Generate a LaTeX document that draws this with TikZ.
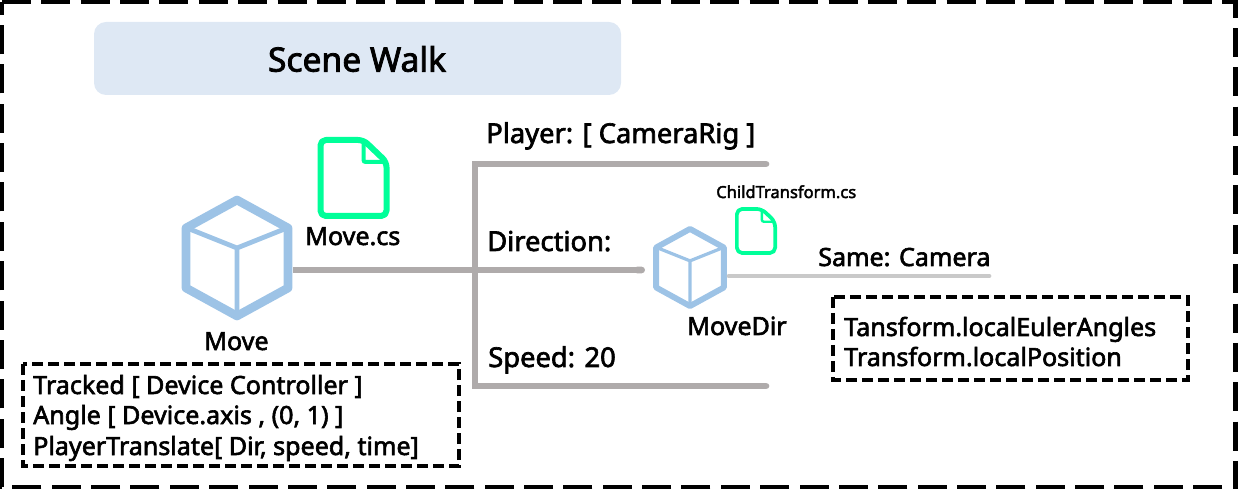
\documentclass[tikz,border=0pt]{standalone}
\usepackage{fontspec}
\setmainfont[AutoFakeBold=2.4]{Noto Sans}
\usetikzlibrary{arrows.meta}
\definecolor{cubeblue}{HTML}{9DC3E6}
\definecolor{filegreen}{HTML}{00FF99}
\definecolor{busgray}{HTML}{AFABAB}
\definecolor{samegray}{HTML}{C9C9C9}
\definecolor{titleblue}{HTML}{DEE8F4}
\tikzset{
  label/.style={inner sep=0pt,anchor=base west,font=\fontsize{18.8}{22}\selectfont\bfseries},
  buslabel/.style={label,font=\fontsize{20.5}{24}\selectfont\bfseries},
  notebox/.style={draw,line width=2.8pt,dash pattern=on 8pt off 4pt},
  bus/.style={busgray,line width=5pt},
  pics/cube/.style n args={3}{code={
    \draw[cubeblue,line width=#2,line join=round] (0,-58*#1)--(51*#1,-30*#1)--(51*#1,30*#1)--(0,58*#1)--(-51*#1,30*#1)--(-51*#1,-30*#1)--cycle;
    \draw[cubeblue,line width=#3] (-50*#1,-30*#1)--(0,-10*#1)--(50*#1,-30*#1) (0,-10*#1)--(0,56*#1);
  }},
  pics/csfile/.style n args={3}{code={
    \draw[filegreen,line width=#2,line join=round,rounded corners=4pt] (-33*#1,-38*#1)--(10*#1,-38*#1)--(33*#1,-16*#1)--(33*#1,38*#1)--(-33*#1,38*#1)--cycle;
    \draw[filegreen,line width=#3,rounded corners=1.5pt] (10*#1,-36*#1)--(10*#1,-16*#1)--(31*#1,-16*#1);
  }}
}
\begin{document}
\begin{tikzpicture}[x=0.75pt,y=-0.75pt]
\useasboundingbox (0,0) rectangle (1238,491);
\draw[line width=3.1pt,dash pattern=on 21.75pt off 7.77pt] (2,2) -- (1235.5,2) -- (1235.5,487) -- (2,487) -- cycle;

\fill[titleblue,rounded corners=9pt] (94,22) rectangle (621,95);
\node[inner sep=0pt,font=\fontsize{25.2}{30}\selectfont\bfseries] (title) at (357,59) {Scene Walk};

% bus
\coordinate (busTop) at (766,164);
\coordinate (busCorner) at (475,164);
\coordinate (busBottom) at (475,386);
\coordinate (busEnd) at (766,386);
\coordinate (moveOut) at (293,270);
\coordinate (busMid) at (645,270);
\draw[bus,line join=miter,line cap=round] (busTop) -- (busCorner) -- (busBottom) -- (busEnd);
\draw[bus,-{Round Cap[]}] (moveOut) -- (busMid);

\pic at (237,258) {cube={1}{6.5pt}{3.6pt}};
\pic at (353.5,178) {csfile={1}{4.5pt}{3pt}};
\node[label] (move) at (204,350) {Move};
\node[label] (movecs) at (305,245) {Move.cs};
\node[buslabel] (player) at (486,143) {Player: [ CameraRig ]};
\node[buslabel] (direction) at (487,251) {Direction:};
\node[buslabel] (speed) at (488,367) {Speed: 20};

\pic at (690,267.5) {cube={.665}{4.4pt}{2.4pt}};
\pic at (756,231) {csfile={.58}{2.8pt}{1.8pt}};
\coordinate (dirOut) at (729,276);
\coordinate (sameEnd) at (989,276);
\draw[samegray,line width=3.6pt,line cap=round] (dirOut) -- (sameEnd);
\node[label,font=\fontsize{12.4}{14}\selectfont\bfseries] (childcs) at (716,198) {ChildTransform.cs};
\node[label] (same) at (818,266) {Same: Camera};
\node[label] (movedir) at (687,335) {MoveDir};

\draw[notebox] (833,297) rectangle (1188,380);
\node[label] (euler) at (844,336) {Tansform.localEulerAngles};
\node[label] (position) at (844,366) {Transform.localPosition};

\draw[notebox] (23,364) rectangle (459,466);
\node[label] (tracked) at (33,394) {Tracked [ Device Controller ]};
\node[label] (angle) at (33,424) {Angle [ Device.axis , (0, 1) ]};
\node[label] (translate) at (33,455) {PlayerTranslate[ Dir, speed, time]};
\end{tikzpicture}
\end{document}
